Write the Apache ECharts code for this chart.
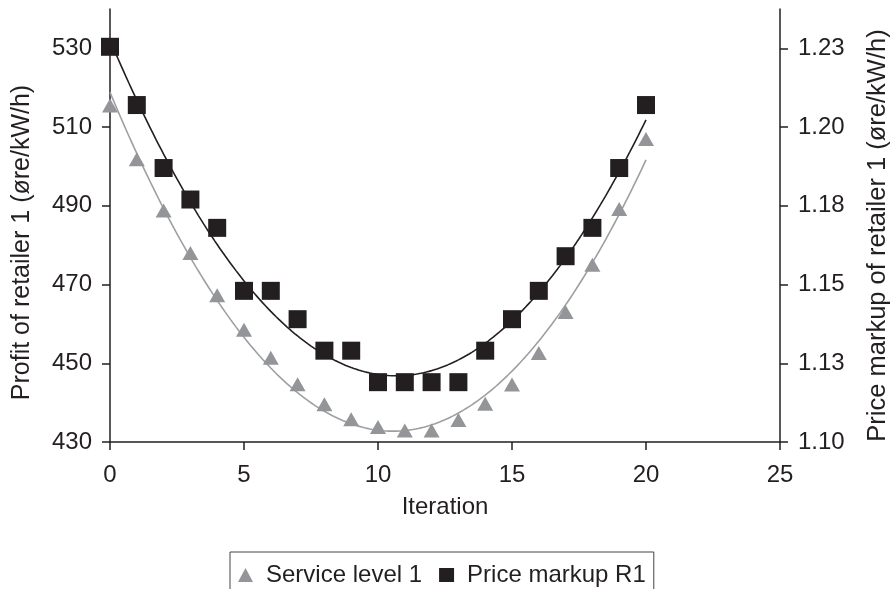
<!DOCTYPE html>
<html>
<head>
<meta charset="utf-8">
<script src="https://cdn.jsdelivr.net/npm/echarts@6/dist/echarts.min.js"></script>
<style>
  html, body { margin: 0; padding: 0; background: #fff; }
  #chart { width: 890px; height: 589px; }
</style>
</head>
<body>
<div id="chart"></div>
<script>
// Iterations 0..20
const iterations = [0, 1, 2, 3, 4, 5, 6, 7, 8, 9, 10, 11, 12, 13, 14, 15, 16, 17, 18, 19, 20];

// Profit of retailer 1 (left axis), triangles
const serviceLevel = [515.5, 501.8, 488.8, 478.0, 467.3, 458.5, 451.4, 444.7, 439.6, 435.8, 433.8,
                      432.9, 432.9, 435.6, 439.7, 444.6, 452.6, 463.0, 475.0, 489.2, 507.0];

// Price markup of retailer 1 (right axis), squares
const priceMarkup = [1.2255, 1.207, 1.187, 1.177, 1.168, 1.148, 1.148, 1.139, 1.129, 1.129, 1.119,
                     1.119, 1.119, 1.119, 1.129, 1.139, 1.148, 1.159, 1.168, 1.187, 1.207];

// Axis ticks
const leftTicks = [430, 450, 470, 490, 510, 530];
const rightTicks = [1.10, 1.125, 1.15, 1.175, 1.20, 1.225];
const rightTickLabels = ['1.10', '1.13', '1.15', '1.18', '1.20', '1.23'];

// Least-squares polynomial trendline
function polyFit(xs, ys, order) {
  const n = order + 1;
  const A = [];
  for (let i = 0; i < n; i++) {
    A.push(new Array(n + 1).fill(0));
  }
  for (let k = 0; k < xs.length; k++) {
    for (let i = 0; i < n; i++) {
      for (let j = 0; j < n; j++) A[i][j] += Math.pow(xs[k], i + j);
      A[i][n] += ys[k] * Math.pow(xs[k], i);
    }
  }
  for (let i = 0; i < n; i++) {
    let p = i;
    for (let r = i + 1; r < n; r++) if (Math.abs(A[r][i]) > Math.abs(A[p][i])) p = r;
    [A[i], A[p]] = [A[p], A[i]];
    for (let r = 0; r < n; r++) {
      if (r === i) continue;
      const f = A[r][i] / A[i][i];
      for (let c = i; c <= n; c++) A[r][c] -= f * A[i][c];
    }
  }
  return A.map((row, i) => row[n] / row[i]);
}
function trend(xs, ys, order) {
  const c = polyFit(xs, ys, order);
  const pts = [];
  const x0 = xs[0], x1 = xs[xs.length - 1];
  for (let i = 0; i <= 200; i++) {
    const x = x0 + (x1 - x0) * i / 200;
    let y = 0;
    for (let k = 0; k < c.length; k++) y += c[k] * Math.pow(x, k);
    pts.push([x, y]);
  }
  return pts;
}

const FONT = '"Liberation Sans", Arial, Helvetica, sans-serif';
const INK = '#231f20';
const GREY = '#939598';

const chart = echarts.init(document.getElementById('chart'), null, { renderer: 'canvas' });

const axisCommon = {
  axisLine: { show: true, lineStyle: { color: INK, width: 1.5 } },
  axisTick: { show: true, inside: false, length: 8, lineStyle: { color: INK, width: 1.5 } },
  splitLine: { show: false },
  nameLocation: 'middle',
  nameTextStyle: { fontFamily: FONT, fontSize: 24, color: INK }
};

chart.setOption({
  animation: false,
  backgroundColor: '#fff',
  grid: { left: 110, right: 110, top: 9, bottom: 147, containLabel: false, outerBoundsMode: 'none' },
  legend: {
    data: [
      { name: 'Service level 1', icon: 'triangle' },
      { name: 'Price markup R1', icon: 'rect' }
    ],
    left: 230,
    top: 552,
    orient: 'horizontal',
    itemWidth: 15,
    itemHeight: 14,
    itemGap: 17,
    padding: [11, 8, 30, 8],
    borderColor: '#444',
    borderWidth: 1,
    selectedMode: false,
    textStyle: { fontFamily: FONT, fontSize: 24, color: INK, padding: [0, 0, 0, 8] }
  },
  xAxis: Object.assign({}, axisCommon, {
    type: 'value',
    min: 0,
    max: 25,
    interval: 5,
    name: 'Iteration',
    nameGap: 53,
    axisLabel: { fontFamily: FONT, fontSize: 24, color: INK, margin: 21 }
  }),
  yAxis: [
    Object.assign({}, axisCommon, {
      type: 'value',
      position: 'left',
      min: 430,
      max: 540,
      name: 'Profit of retailer 1 (øre/kW/h)',
      nameGap: 75,
      nameTextStyle: { fontFamily: FONT, fontSize: 25, color: INK, padding: [0, 34, 0, 0] },
      axisTick: { show: true, length: 8, customValues: leftTicks, lineStyle: { color: INK, width: 1.5 } },
      axisLabel: { fontFamily: FONT, fontSize: 24, color: INK, margin: 18, customValues: leftTicks }
    }),
    Object.assign({}, axisCommon, {
      type: 'value',
      position: 'right',
      min: 1.10,
      max: 1.2375,
      name: 'Price markup of retailer 1 (øre/kW/h)',
      nameGap: 85,
      nameTextStyle: { fontFamily: FONT, fontSize: 25.5, color: INK, padding: [0, 20, 0, 0] },
      axisTick: { show: true, length: 8, customValues: rightTicks, lineStyle: { color: INK, width: 1.5 } },
      axisLabel: {
        fontFamily: FONT, fontSize: 24, color: INK, margin: 18,
        customValues: rightTicks,
        formatter: function (v) {
          let best = 0;
          for (let i = 1; i < rightTicks.length; i++) {
            if (Math.abs(rightTicks[i] - v) < Math.abs(rightTicks[best] - v)) best = i;
          }
          return rightTickLabels[best];
        }
      }
    })
  ],
  series: [
    {
      name: 'Service level trend',
      type: 'line',
      yAxisIndex: 0,
      data: trend(iterations, serviceLevel, 2),
      showSymbol: false,
      symbol: 'none',
      lineStyle: { color: '#9d9fa2', width: 1.6 },
      z: 2,
      silent: true
    },
    {
      name: 'Price markup trend',
      type: 'line',
      yAxisIndex: 1,
      data: trend(iterations, priceMarkup, 2),
      showSymbol: false,
      symbol: 'none',
      lineStyle: { color: INK, width: 1.6 },
      z: 2,
      silent: true
    },
    {
      name: 'Service level 1',
      type: 'line',
      yAxisIndex: 0,
      data: iterations.map((x, i) => [x, serviceLevel[i]]),
      symbol: 'triangle',
      symbolSize: [16, 14],
      showAllSymbol: true,
      itemStyle: { color: GREY },
      lineStyle: { opacity: 0, width: 0 },
      z: 3
    },
    {
      name: 'Price markup R1',
      type: 'line',
      yAxisIndex: 1,
      data: iterations.map((x, i) => [x, priceMarkup[i]]),
      symbol: 'rect',
      symbolSize: 18,
      showAllSymbol: true,
      itemStyle: { color: INK },
      lineStyle: { opacity: 0, width: 0 },
      z: 4
    }
  ]
});
</script>
</body>
</html>
